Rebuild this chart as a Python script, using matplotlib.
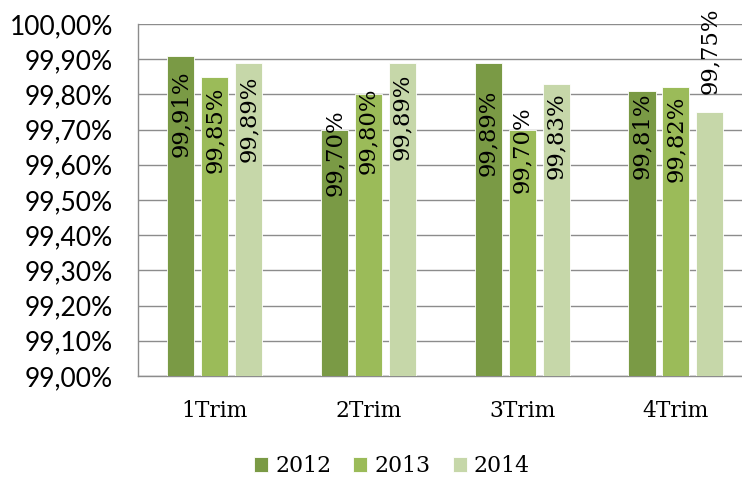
import matplotlib
matplotlib.use("Agg")
import matplotlib.pyplot as plt
import numpy as np

categories = ["1Trim", "2Trim", "3Trim", "4Trim"]
years = ["2012", "2013", "2014"]
v2012 = [99.91, 99.70, 99.89, 99.81]
v2013 = [99.85, 99.80, 99.70, 99.82]
v2014 = [99.89, 99.89, 99.83, 99.75]
yticks = [99.0 + 0.1 * i for i in range(11)]

colors = ["#7a9a45", "#9bbb59", "#c6d7a9"]
# label centre distance below bar top, in pixels (style only)
label_shift = [[58, 53, 56], [23, 36, 54], [70, 20, 52], [45, 51, -61]]

fig = plt.figure(figsize=(7.42, 4.79), dpi=100)
ax = fig.add_axes([138 / 742, 103 / 479, 614.8 / 742, 352 / 479])

x = np.arange(len(categories))
pitch = 0.221
width = 0.176
series = [v2012, v2013, v2014]
for i, (vals, col, yr) in enumerate(zip(series, colors, years)):
    xs = x + (i - 1) * pitch
    heights = [v - 99.0 for v in vals]
    ax.bar(xs, heights, width=width, bottom=99.0, color=col, edgecolor="white",
           linewidth=0.6, label=yr, zorder=3)
    for j, (xx, v) in enumerate(zip(xs, vals)):
        ax.annotate(f"{v:.2f}%".replace(".", ","), xy=(xx, v),
                    xytext=(0, -label_shift[j][i] * 0.72), textcoords="offset points",
                    rotation=90, ha="center", va="center",
                    fontsize=16.4, family="DejaVu Serif", color="black", zorder=4)

ax.set_ylim(99.0, 100.0)
ax.set_xlim(-0.5, 3.5)
ax.set_yticks(yticks)
ax.set_yticklabels([f"{t:.2f}%".replace(".", ",") for t in yticks],
                   family="Lato", fontsize=19)
ax.set_xticks(x)
ax.set_xticklabels(categories, family="DejaVu Serif", fontsize=15.7)
ax.tick_params(axis="y", length=0, pad=18)
ax.tick_params(axis="x", length=0, pad=17)
ax.grid(axis="y", color="#8c8c8c", linewidth=1.0, zorder=0)
for s in ["top", "right"]:
    ax.spines[s].set_visible(False)
for s in ["left", "bottom"]:
    ax.spines[s].set_color("#8c8c8c")
    ax.spines[s].set_linewidth(1.0)

leg = fig.legend(loc="center", bbox_to_anchor=(392 / 742, 1 - 466 / 479), ncol=3,
                 frameon=False, prop={"family": "DejaVu Serif", "size": 15.8},
                 handlelength=0.64, handleheight=0.64, handletextpad=0.33,
                 columnspacing=1.0, borderpad=0)

fig.savefig("out.png", dpi=100)
